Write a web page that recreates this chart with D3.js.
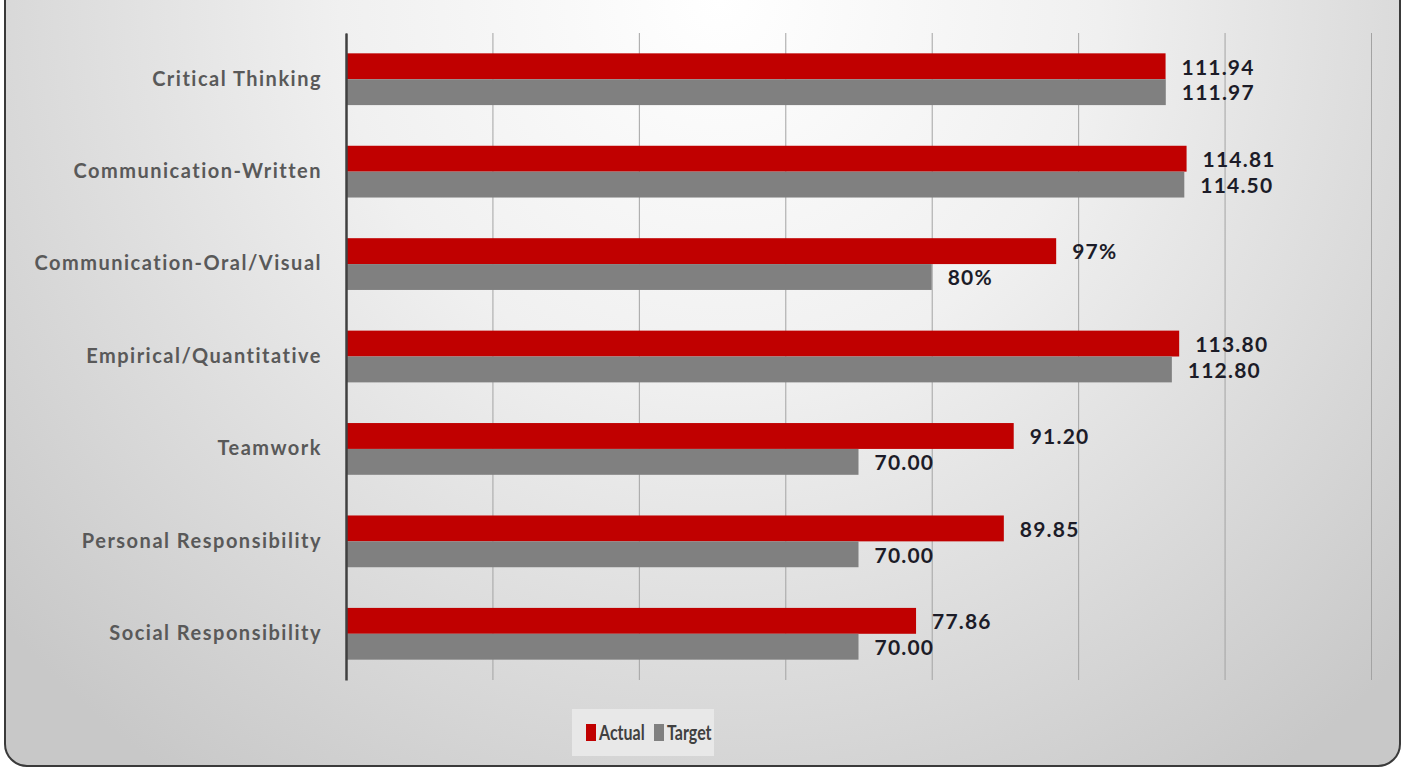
<!DOCTYPE html>
<html>
<head>
<meta charset="utf-8">
<script src="https://cdn.jsdelivr.net/npm/d3@7/dist/d3.min.js"></script>
<style>
    html, body {margin: 0; padding: 0; background: #fff;}
    svg {display: block;}
</style>
</head>
<body>
<div id="chart"></div>
<script>
const categories = ["Critical Thinking", "Communication-Written", "Communication-Oral/Visual",
    "Empirical/Quantitative", "Teamwork", "Personal Responsibility", "Social Responsibility"];
const actualValues = [111.94, 114.81, 97, 113.80, 91.20, 89.85, 77.86];
const targetValues = [111.97, 114.50, 80, 112.80, 70.00, 70.00, 70.00];
const actualLabels = ["111.94", "114.81", "97%", "113.80", "91.20", "89.85", "77.86"];
const targetLabels = ["111.97", "114.50", "80%", "112.80", "70.00", "70.00", "70.00"];
const xTicks = [0, 20, 40, 60, 80, 100, 120, 140];
const seriesNames = ["Actual", "Target"];
const seriesColors = ["#c00000", "#808080"];

const W = 1403, H = 769;
const margin = {top: 33, right: 32, bottom: 89, left: 346};
const width = W - margin.left - margin.right;
const height = H - margin.top - margin.bottom;
const FONT = "Lato, 'Open Sans', sans-serif";

const svg = d3.select("#chart").append("svg")
    .attr("width", W)
    .attr("height", H);

// background panel
const defs = svg.append("defs");
const grad = defs.append("radialGradient")
    .attr("id", "bg")
    .attr("gradientUnits", "userSpaceOnUse")
    .attr("cx", 720).attr("cy", 0).attr("r", 950);
grad.append("stop").attr("offset", "0").attr("stop-color", "#ffffff");
grad.append("stop").attr("offset", "0.4").attr("stop-color", "#f0f0f0");
grad.append("stop").attr("offset", "1").attr("stop-color", "#c8c8c8");

svg.append("rect")
    .attr("x", 5).attr("y", -30)
    .attr("width", 1395).attr("height", 796)
    .attr("rx", 22).attr("ry", 22)
    .attr("fill", "url(#bg)")
    .attr("stroke", "#3a3a3a")
    .attr("stroke-width", 2);

const g = svg.append("g")
    .attr("transform", "translate(" + margin.left + "," + margin.top + ")");

const x = d3.scaleLinear().domain([0, 140]).range([0, width]);
const y = d3.scaleBand().domain(categories).range([0, height])
    .paddingInner(0.44).paddingOuter(0.22);
const ySub = d3.scaleBand().domain(seriesNames).range([0, y.bandwidth()]);

// vertical gridlines
g.append("g")
    .attr("class", "grid")
    .attr("transform", "translate(0," + height + ")")
    .call(d3.axisBottom(x).tickValues(xTicks).tickSize(-height).tickFormat(""))
    .call(function(sel) {
        sel.select(".domain").remove();
        sel.selectAll("line").attr("stroke", "#a3a3a3").attr("stroke-width", 1);
    });

const rows = categories.map(function(c, i) {
    return {
        category: c,
        values: [
            {series: "Actual", value: actualValues[i], label: actualLabels[i]},
            {series: "Target", value: targetValues[i], label: targetLabels[i]}
        ]
    };
});

const groups = g.selectAll("g.cat")
    .data(rows)
    .enter().append("g")
    .attr("class", "cat")
    .attr("transform", function(d) { return "translate(0," + y(d.category) + ")"; });

groups.selectAll("rect")
    .data(function(d) { return d.values; })
    .enter().append("rect")
    .attr("x", 0)
    .attr("y", function(d) { return ySub(d.series); })
    .attr("width", function(d) { return x(d.value); })
    .attr("height", ySub.bandwidth())
    .attr("fill", function(d) { return seriesColors[seriesNames.indexOf(d.series)]; });

groups.selectAll("text.val")
    .data(function(d) { return d.values; })
    .enter().append("text")
    .attr("class", "val")
    .attr("x", function(d) { return x(d.value) + 16; })
    .attr("y", function(d) { return ySub(d.series) + ySub.bandwidth() / 2 + 1; })
    .attr("dy", "0.35em")
    .attr("font-family", FONT)
    .attr("font-weight", "bold")
    .attr("font-size", "21px")
    .attr("letter-spacing", "1.2px")
    .attr("fill", "#1c1c28")
    .text(function(d) { return d.label; });

// category axis
g.append("g")
    .call(d3.axisLeft(y).tickSize(0).tickPadding(24))
    .call(function(sel) {
        sel.select(".domain").attr("stroke", "#404040").attr("stroke-width", 2.5);
        sel.selectAll("text")
            .attr("font-family", FONT)
            .attr("font-weight", "bold")
            .attr("font-size", "20px")
            .attr("letter-spacing", "1.5px")
            .attr("fill", "#595959");
    });

// legend
const legend = svg.append("g").attr("transform", "translate(572,709)");
legend.append("rect")
    .attr("width", 142).attr("height", 47)
    .attr("fill", "#e8e8e8");
const legendX = [14, 82];
seriesNames.forEach(function(name, i) {
    legend.append("rect")
        .attr("x", legendX[i]).attr("y", 15)
        .attr("width", 10).attr("height", 17)
        .attr("fill", seriesColors[i]);
    legend.append("text")
        .attr("transform", "translate(" + (legendX[i] + 13) + ",24) scale(0.8,1)")
        .attr("dy", "0.35em")
        .attr("font-family", FONT)
        .attr("font-size", "20px")
        .attr("font-weight", "bold")
        .attr("fill", "#404040")
        .text(name);
});
</script>
</body>
</html>
